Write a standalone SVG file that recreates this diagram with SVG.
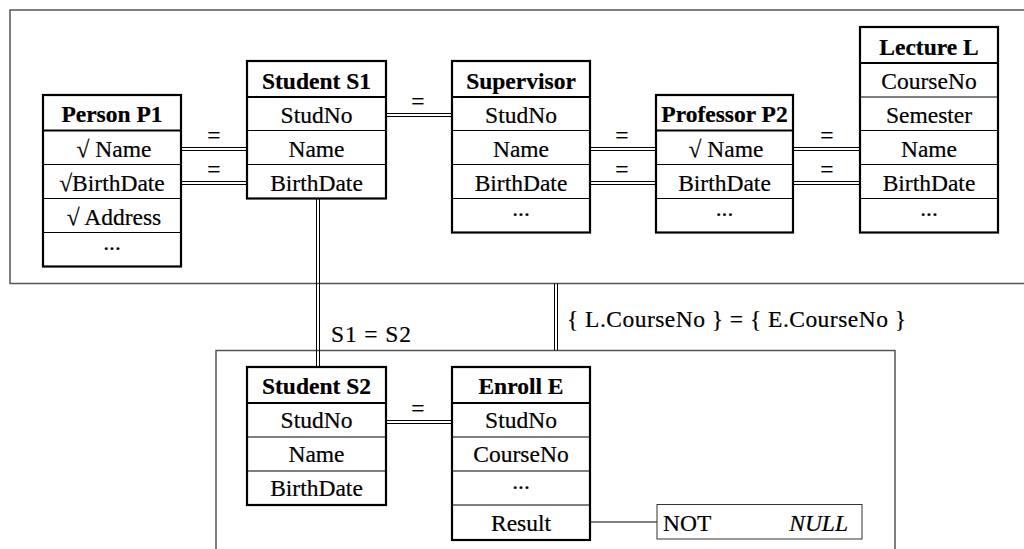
<svg xmlns="http://www.w3.org/2000/svg" width="1024" height="549" viewBox="0 0 1024 549">
<style>
  .frame{fill:none;stroke:#555;stroke-width:1.5}
  .box{fill:#fff;stroke:#000;stroke-width:2.2}
  .hdr{stroke:#000;stroke-width:2}
  .sep{stroke:#000;stroke-width:1}
  .dl{stroke:#000;stroke-width:1;fill:none}
  text{font-family:'Liberation Serif','Times New Roman',Times,'DejaVu Serif',serif;font-size:23.5px;fill:#000;stroke:#000;stroke-width:0.2}
  .t{text-anchor:middle}
  .b{font-weight:bold}
  .eq{text-anchor:middle}
</style>
<rect width="1024" height="549" fill="#fff"/>
<g id="frames">
  <rect class="frame" x="10" y="10" width="1030" height="273.5"/>
  <rect class="frame" x="216" y="350.5" width="679" height="220"/>
</g>
<g id="connectors">
  <path class="dl" d="M181 147.5H247M181 150.5H247"/>
  <text class="eq" x="214" y="143">=</text>
  <path class="dl" d="M181 181.5H247M181 184.5H247"/>
  <text class="eq" x="214" y="177">=</text>
  <path class="dl" d="M386 113.5H452M386 116.5H452"/>
  <text class="eq" x="418" y="109">=</text>
  <path class="dl" d="M590 147.5H656M590 150.5H656"/>
  <text class="eq" x="622" y="143">=</text>
  <path class="dl" d="M590 181.5H656M590 184.5H656"/>
  <text class="eq" x="622" y="177">=</text>
  <path class="dl" d="M793 147.5H860M793 150.5H860"/>
  <text class="eq" x="827" y="143">=</text>
  <path class="dl" d="M793 181.5H860M793 184.5H860"/>
  <text class="eq" x="827" y="177">=</text>
  <path class="dl" d="M316.5 198.5V367M319.5 198.5V367"/>
  <text x="331" y="342" textLength="80" lengthAdjust="spacing">S1 = S2</text>
  <path class="dl" d="M554.5 283.5V350.5M557.5 283.5V350.5"/>
  <text x="567" y="327" textLength="339" lengthAdjust="spacing">{ L.CourseNo } = { E.CourseNo }</text>
  <path class="dl" d="M386 420.5H452M386 423.5H452"/>
  <text class="eq" x="418" y="416">=</text>
  <path class="sep" d="M590 522H657"/>
</g>
<g id="P1">
  <rect class="box" x="43" y="95" width="138" height="171.5"/>
  <path class="hdr" d="M43 130.5H181"/>
  <path class="sep" d="M43 164.5H181M43 198.5H181M43 232.5H181"/>
  <text class="t b" x="112" y="121.5">Person P1</text>
  <text class="t" x="114" y="156.5">√ Name</text>
  <text class="t" x="112" y="190.5">√BirthDate</text>
  <text class="t" x="114" y="224.5">√ Address</text>
  <text class="t" x="112" y="250">...</text>
</g>
<g id="S1">
  <rect class="box" x="247" y="61" width="139" height="137.5"/>
  <path class="hdr" d="M247 97H386"/>
  <path class="sep" d="M247 130.5H386M247 164.5H386"/>
  <text class="t b" x="316.5" y="88.5">Student S1</text>
  <text class="t" x="316.5" y="122.5">StudNo</text>
  <text class="t" x="316.5" y="156.5">Name</text>
  <text class="t" x="316.5" y="190.5">BirthDate</text>
</g>
<g id="Supervisor">
  <rect class="box" x="452" y="61" width="138" height="171.5"/>
  <path class="hdr" d="M452 97H590"/>
  <path class="sep" d="M452 130.5H590M452 164.5H590M452 198.5H590"/>
  <text class="t b" x="521" y="88.5">Supervisor</text>
  <text class="t" x="521" y="122.5">StudNo</text>
  <text class="t" x="521" y="156.5">Name</text>
  <text class="t" x="521" y="190.5">BirthDate</text>
  <text class="t" x="521" y="216">...</text>
</g>
<g id="P2">
  <rect class="box" x="656" y="95" width="137" height="137.5"/>
  <path class="hdr" d="M656 130.5H793"/>
  <path class="sep" d="M656 164.5H793M656 198.5H793"/>
  <text class="t b" x="724.5" y="121.5">Professor P2</text>
  <text class="t" x="726" y="156.5">√ Name</text>
  <text class="t" x="724.5" y="190.5">BirthDate</text>
  <text class="t" x="724.5" y="216">...</text>
</g>
<g id="L">
  <rect class="box" x="860" y="27" width="138" height="205.5"/>
  <path class="hdr" d="M860 63H998"/>
  <path class="sep" d="M860 97H998M860 130.5H998M860 164.5H998M860 198.5H998"/>
  <text class="t b" x="929" y="54.5">Lecture L</text>
  <text class="t" x="929" y="88.5">CourseNo</text>
  <text class="t" x="929" y="122.5">Semester</text>
  <text class="t" x="929" y="156.5">Name</text>
  <text class="t" x="929" y="190.5">BirthDate</text>
  <text class="t" x="929" y="216">...</text>
</g>
<g id="S2">
  <rect class="box" x="247" y="367" width="139" height="138"/>
  <path class="hdr" d="M247 403H386"/>
  <path class="sep" d="M247 437H386M247 471H386"/>
  <text class="t b" x="316.5" y="394">Student S2</text>
  <text class="t" x="316.5" y="428">StudNo</text>
  <text class="t" x="316.5" y="462">Name</text>
  <text class="t" x="316.5" y="496">BirthDate</text>
</g>
<g id="E">
  <rect class="box" x="452" y="367" width="138" height="173"/>
  <path class="hdr" d="M452 403H590"/>
  <path class="sep" d="M452 437H590M452 471H590M452 505H590"/>
  <text class="t b" x="521" y="394">Enroll E</text>
  <text class="t" x="521" y="428">StudNo</text>
  <text class="t" x="521" y="462">CourseNo</text>
  <text class="t" x="521" y="489">...</text>
  <text class="t" x="521" y="530.5">Result</text>
</g>
<g id="NOTNULL">
  <rect x="657" y="504.5" width="205" height="34.5" fill="#fff" stroke="#333" stroke-width="1"/>
  <text x="663" y="531">NOT</text>
  <text x="848" y="531" text-anchor="end" font-style="italic">NULL</text>
</g>
</svg>
